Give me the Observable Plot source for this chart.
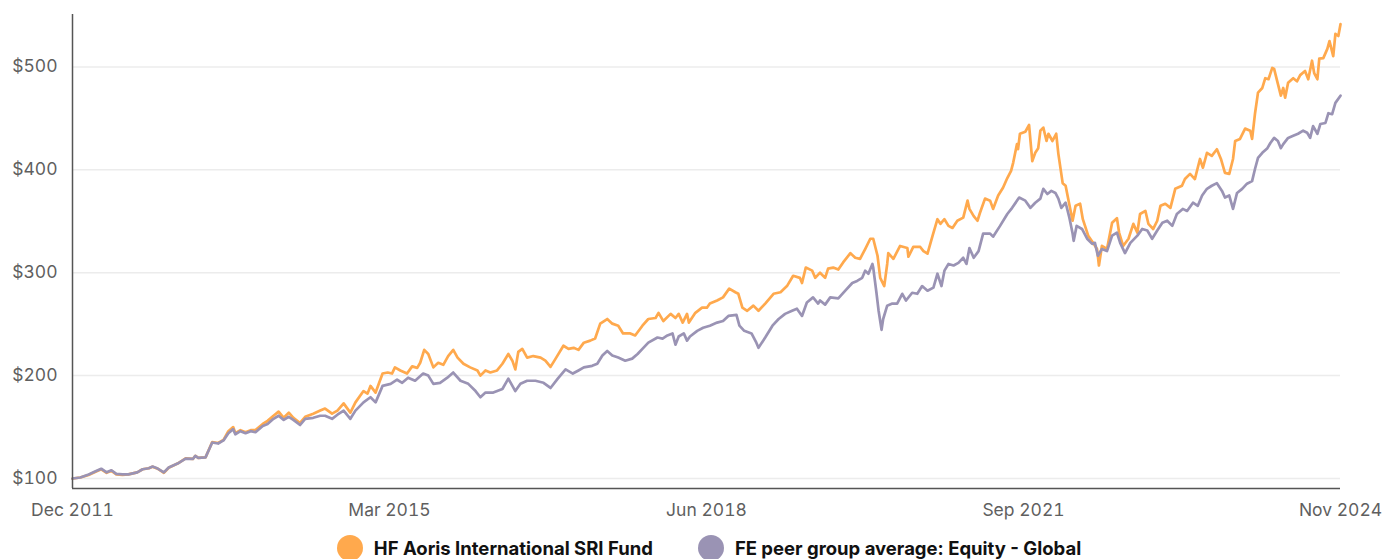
<!DOCTYPE html>
<html>
<head>
<meta charset="utf-8">
<script src="https://cdn.jsdelivr.net/npm/d3@7"></script>
<script src="https://cdn.jsdelivr.net/npm/@observablehq/plot@0.6"></script>
<style>
  html, body { margin: 0; padding: 0; background: #fff; }
  #chart { width: 1399px; }
  #legend { display: flex; justify-content: center; gap: 45px; padding-left: 19px; margin-top: 5px;
            font-family: Inter, sans-serif; font-weight: 700; font-size: 18.5px; color: #111; }
  .item { display: flex; align-items: center; gap: 11px; }
  .dot { width: 26px; height: 26px; border-radius: 50%; display: inline-block; }
</style>
</head>
<body>
<div id="chart"></div>
<div id="legend"></div>
<script>
const seriesNames = ["HF Aoris International SRI Fund", "FE peer group average: Equity - Global"];
const seriesColors = ["#FFA94D", "#9A93B4"];
const yTicks = [100, 200, 300, 400, 500];
const xTickLabels = ["Dec 2011", "Mar 2015", "Jun 2018", "Sep 2021", "Nov 2024"];
const xStart = "2011-12-01";
const xEnd = "2024-11-01";

const earlyDates = ["2011-12-01","2011-12-30","2012-01-30","2012-02-25","2012-03-17","2012-04-06","2012-04-24","2012-05-12","2012-06-04","2012-06-26",
"2012-07-29","2012-08-18","2012-09-10","2012-09-24","2012-10-13","2012-11-05","2012-11-23","2012-12-26","2013-01-25","2013-02-21",
"2013-03-02","2013-03-13","2013-04-09","2013-05-04","2013-05-26","2013-06-15","2013-07-03","2013-07-21","2013-07-29","2013-08-17",
"2013-09-05","2013-09-24","2013-10-12","2013-11-08","2013-11-26","2013-12-18","2014-01-06","2014-01-25","2014-02-13","2014-03-02",
"2014-03-27","2014-04-15","2014-05-15","2014-06-10","2014-06-28","2014-07-24","2014-08-13","2014-09-05","2014-09-30","2014-10-19"];
const fundEarly = [100,101,103.5,106.5,109,105.5,107.5,104,103.5,104,
106,109,110,111.5,109.5,105.5,110.5,114.5,119.5,119,
122,120,120.5,135.5,134.5,137.5,146,150,144,147,
145,147,147,153,156,161,165,159,164,159,
154,160,163,166,168,163,166,173,164,174];
const peerEarly = [100,101,104,107,109.5,106,108,104.5,104,104,
106,109,110,111.6,109.7,106,110.7,114.5,119.4,119,
122,120,120.5,135,134,137,144,148,143,146,
144,146,145,151,153,158,161,157,160,157,
152,158,159,161,161,158,162,166,158,166];

const fundLater = [
["2014-11-18",185],["2014-12-03",182.5],["2014-12-14",190],["2015-01-02",183.5],["2015-01-28",202],["2015-02-16",203],["2015-03-04",202],
["2015-03-15",208],["2015-04-04",205],["2015-04-29",202],["2015-05-18",209],["2015-06-06",207.5],["2015-06-17",212.5],["2015-07-02",225],
["2015-07-17",221],["2015-08-05",208],["2015-08-23",212.5],["2015-09-11",210.5],["2015-09-29",219],["2015-10-18",225],["2015-11-03",217.5],
["2015-11-25",211.5],["2015-12-20",208],["2016-01-16",205],["2016-01-27",200],["2016-02-15",205],["2016-03-04",203],["2016-03-29",205],
["2016-04-18",211.5],["2016-05-10",221],["2016-05-25",214.5],["2016-06-05",206],["2016-06-16",223],["2016-07-01",226],["2016-07-19",217.5],
["2016-08-11",219],["2016-09-07",217.5],["2016-09-25",214.5],["2016-10-14",208.5],["2016-11-02",216.5],["2016-12-01",229],["2016-12-20",226],
["2017-01-08",227],["2017-01-26",225],["2017-02-15",232],["2017-03-11",234],["2017-03-29",236],["2017-04-17",250.5],["2017-05-13",255],
["2017-06-01",250.5],["2017-06-23",248.5],["2017-07-11",241],["2017-08-07",241],["2017-08-25",239],["2017-09-21",248.5],["2017-10-13",255],
["2017-11-09",256],["2017-11-20",261],["2017-12-08",253],["2018-01-04",260],["2018-01-22",256],["2018-02-03",260],["2018-02-18",251.5],
["2018-03-06",260],["2018-03-13",251.5],["2018-04-06",261],["2018-05-01",266],["2018-05-19",266],["2018-05-30",270],["2018-06-26",273],
["2018-07-18",276],["2018-08-10",284.5],["2018-09-02",281],["2018-09-13",279.5],["2018-09-28",266],["2018-10-16",263],["2018-11-08",268],
["2018-11-27",263],["2018-12-22",270],["2019-01-22",279.5],["2019-02-17",281],["2019-03-13",287],["2019-04-05",297],["2019-04-30",295],
["2019-05-08",290],["2019-05-22",305],["2019-06-15",302],["2019-06-26",295],["2019-07-14",300],["2019-08-02",295],["2019-08-13",304],
["2019-09-01",305],["2019-09-20",303],["2019-10-08",310],["2019-11-04",319],["2019-11-22",314.5],["2019-12-10",313.5],["2019-12-29",323],
["2020-01-17",333],["2020-01-28",333],["2020-02-13",316.5],["2020-02-23",295],["2020-03-09",287],["2020-03-20",308.5],["2020-03-24",319],
["2020-04-12",313.5],["2020-05-07",326],["2020-06-03",324],["2020-06-07",315.5],["2020-06-25",325],["2020-07-21",325],["2020-08-02",321],
["2020-08-17",318.5],["2020-09-05",336],["2020-09-23",352],["2020-10-04",347.5],["2020-10-19",352],["2020-11-03",345.5],["2020-11-18",343.5],
["2020-12-06",350.5],["2020-12-28",353.5],["2021-01-13",370],["2021-01-20",362],["2021-02-05",355],["2021-02-19",350.5],["2021-02-28",358],
["2021-03-19",372],["2021-04-07",370],["2021-04-18",362],["2021-05-07",375],["2021-05-25",382.5],["2021-06-10",392],["2021-06-24",399],
["2021-07-02",407],["2021-07-16",425],["2021-07-20",420],["2021-07-27",435],["2021-08-16",437],["2021-08-30",443.5],["2021-09-11",408.5],
["2021-09-22",416.5],["2021-10-03",421],["2021-10-11",438],["2021-10-22",441],["2021-11-03",428],["2021-11-10",435],["2021-11-25",428],
["2021-12-09",435],["2021-12-17",415.5],["2022-01-02",387],["2022-01-13",384.5],["2022-01-24",370],["2022-02-08",350.5],["2022-02-19",365],
["2022-03-08",367],["2022-03-18",352],["2022-04-07",336],["2022-04-25",329],["2022-05-10",323],["2022-05-17",307],["2022-05-28",326],
["2022-06-16",323],["2022-07-05",348.5],["2022-07-23",353],["2022-07-31",339],["2022-08-15",326],["2022-09-04",333],["2022-09-22",347.5],
["2022-10-07",339],["2022-10-17",357],["2022-11-06",360],["2022-11-17",347.5],["2022-12-05",342.5],["2022-12-20",350.5],["2023-01-01",365],
["2023-01-19",367],["2023-02-07",363],["2023-02-25",381.5],["2023-03-22",384.5],["2023-04-02",391],["2023-04-21",396],["2023-05-09",391],
["2023-05-28",410.5],["2023-06-08",402],["2023-06-23",416.5],["2023-07-11",413.5],["2023-07-30",420],["2023-08-14",410.5],["2023-08-29",397],
["2023-09-14",396],["2023-09-28",410.5],["2023-10-06",428],["2023-10-24",430],["2023-11-12",440],["2023-12-01",438],["2023-12-08",430],
["2023-12-19",455],["2023-12-30",475],["2024-01-15",479.5],["2024-01-26",489],["2024-02-07",488],["2024-02-21",499],["2024-02-28",498],
["2024-03-13",483.5],["2024-03-24",472],["2024-04-02",479.5],["2024-04-09",470],["2024-04-20",484.5],["2024-05-09",489],["2024-05-23",486],
["2024-06-04",492],["2024-06-22",496],["2024-07-04",488],["2024-07-18",506],["2024-07-26",494],["2024-08-07",488],["2024-08-14",508],
["2024-08-29",508.5],["2024-09-13",517.5],["2024-09-21",525],["2024-10-05",510.5],["2024-10-13",532],["2024-10-24",530],["2024-11-01",541.5]];

const peerLater = [
["2014-11-18",174],["2014-12-14",179],["2015-01-02",174],["2015-01-28",190],["2015-02-27",192],["2015-03-23",196],["2015-04-11",193],
["2015-05-03",198],["2015-05-29",195],["2015-06-28",202],["2015-07-17",200],["2015-08-05",192],["2015-08-30",193],["2015-09-26",198],
["2015-10-18",203],["2015-11-14",195],["2015-12-13",192],["2016-01-09",185],["2016-01-27",179],["2016-02-15",183.5],["2016-03-15",183.5],
["2016-04-18",187],["2016-05-10",197],["2016-06-05",185],["2016-06-24",192],["2016-07-19",195],["2016-08-19",195],["2016-09-18",193],
["2016-10-14",188],["2016-11-10",197],["2016-12-09",206],["2017-01-05",202],["2017-01-26",205],["2017-02-15",208],["2017-03-18",209.5],
["2017-04-06",211.5],["2017-04-25",219.5],["2017-05-13",224],["2017-06-01",219.5],["2017-06-23",217.5],["2017-07-19",214.5],["2017-08-14",216.5],
["2017-09-03",221],["2017-09-21",226],["2017-10-13",232],["2017-11-16",237],["2017-12-05",236],["2017-12-23",239],["2018-01-11",241],
["2018-01-22",230],["2018-02-03",238],["2018-02-22",241],["2018-03-06",234],["2018-03-17",238],["2018-04-13",243.5],["2018-05-05",246.5],
["2018-05-30",248.5],["2018-06-26",251.5],["2018-07-18",253],["2018-08-07",258],["2018-09-06",259],["2018-09-17",248.5],["2018-10-05",243.5],
["2018-11-01",241],["2018-11-19",232],["2018-11-27",227],["2018-12-22",237],["2019-01-18",248.5],["2019-02-10",255],["2019-03-06",260],
["2019-04-01",263],["2019-04-19",265],["2019-05-08",258],["2019-05-26",271],["2019-06-18",276],["2019-07-07",270],["2019-07-14",273],
["2019-08-02",269],["2019-08-21",276],["2019-09-20",275],["2019-10-16",282.5],["2019-11-11",290],["2019-11-29",292],["2019-12-18",295],
["2019-12-29",302],["2020-01-10",299],["2020-01-25",308.5],["2020-01-28",305],["2020-02-09",280.5],["2020-02-17",263],["2020-02-28",244.5],
["2020-03-05",255],["2020-03-20",268],["2020-04-08",270],["2020-04-26",270],["2020-05-15",279.5],["2020-05-29",273],["2020-06-21",280.5],
["2020-07-10",279.5],["2020-07-28",287],["2020-08-17",282.5],["2020-09-08",285.5],["2020-09-23",299],["2020-10-08",287],["2020-10-19",302],
["2020-11-03",308.5],["2020-11-22",307],["2020-12-10",309.5],["2020-12-28",314.5],["2021-01-09",308.5],["2021-01-20",324],["2021-02-05",314.5],
["2021-02-23",321],["2021-03-12",338],["2021-04-07",338],["2021-04-18",335],["2021-05-14",345.5],["2021-06-10",357],["2021-06-28",363],
["2021-07-24",373],["2021-08-16",370],["2021-09-04",363],["2021-09-22",368],["2021-10-11",372],["2021-10-22",381.5],["2021-11-06",376.5],
["2021-11-21",379.5],["2021-12-06",377.5],["2021-12-17",372],["2021-12-28",363],["2022-01-13",368],["2022-01-27",353.5],["2022-02-08",338],
["2022-02-12",331],["2022-02-23",345.5],["2022-03-15",342.5],["2022-04-03",333],["2022-04-22",328],["2022-05-02",329],["2022-05-13",316.5],
["2022-05-28",323],["2022-06-16",321],["2022-07-05",336],["2022-07-23",339],["2022-08-04",329],["2022-08-22",319],["2022-09-11",329],
["2022-10-07",336],["2022-10-25",342.5],["2022-11-13",341],["2022-12-01",333],["2022-12-20",341],["2023-01-08",348.5],["2023-01-26",350.5],
["2023-02-14",345.5],["2023-03-03",357],["2023-03-25",362],["2023-04-10",360],["2023-05-02",368],["2023-05-20",365],["2023-06-05",375],
["2023-06-23",381.5],["2023-07-11",384.5],["2023-07-30",387],["2023-08-18",379.5],["2023-08-29",373],["2023-09-14",375],["2023-09-28",362],
["2023-10-13",377.5],["2023-11-01",381.5],["2023-11-19",386.5],["2023-12-08",389],["2023-12-19",401],["2023-12-30",411.5],["2024-01-15",416.5],
["2024-02-03",421],["2024-02-14",426],["2024-02-28",431],["2024-03-13",428],["2024-03-24",421],["2024-04-02",425],["2024-04-20",431],
["2024-05-09",433],["2024-05-27",435],["2024-06-15",438],["2024-06-30",436],["2024-07-11",431],["2024-07-22",442.5],["2024-08-07",435],
["2024-08-18",444.5],["2024-09-06",445.5],["2024-09-17",455],["2024-10-01",454],["2024-10-13",465],["2024-11-01",472]];

const parse = d3.utcParse("%Y-%m-%d");
const fund = earlyDates.map((d, i) => ({date: parse(d), value: fundEarly[i], series: seriesNames[0]}))
  .concat(fundLater.map(([d, v]) => ({date: parse(d), value: v, series: seriesNames[0]})));
const peer = earlyDates.map((d, i) => ({date: parse(d), value: peerEarly[i], series: seriesNames[1]}))
  .concat(peerLater.map(([d, v]) => ({date: parse(d), value: v, series: seriesNames[1]})));

const x0 = parse(xStart), x1 = parse(xEnd);
const xTickDates = d3.range(xTickLabels.length).map(i => new Date(+x0 + i * (x1 - x0) / (xTickLabels.length - 1)));
const yDomain = [90.3, 550.9];

const chart = Plot.plot({
  width: 1399,
  height: 530,
  marginTop: 14,
  marginBottom: 42,
  marginLeft: 72,
  marginRight: 59,
  style: {fontFamily: "Inter, sans-serif", fontSize: "17.5px", color: "#5f5f5f", background: "#fff"},
  x: {type: "utc", domain: [x0, x1]},
  y: {domain: yDomain},
  marks: [
    Plot.gridY(yTicks, {stroke: "#ececec", strokeOpacity: 1, strokeWidth: 1.5}),
    Plot.lineY(fund, {x: "date", y: "value", stroke: seriesColors[0], strokeWidth: 2.7, strokeLinejoin: "round"}),
    Plot.lineY(peer, {x: "date", y: "value", stroke: seriesColors[1], strokeWidth: 2.7, strokeLinejoin: "round"}),
    Plot.ruleX([x0], {stroke: "#555", strokeWidth: 1.5}),
    Plot.ruleY([yDomain[0]], {stroke: "#555", strokeWidth: 1.5}),
    Plot.axisY({ticks: yTicks, tickFormat: d => "$" + d, tickSize: 0, tickPadding: 15, label: null}),
    Plot.axisX({ticks: xTickDates, tickFormat: d => xTickLabels[xTickDates.findIndex(t => +t === +d)], tickSize: 0, tickPadding: 15, label: null})
  ]
});
document.getElementById("chart").appendChild(chart);

const legend = document.getElementById("legend");
seriesNames.forEach((name, i) => {
  const item = document.createElement("span");
  item.className = "item";
  const dot = document.createElement("span");
  dot.className = "dot";
  dot.style.background = seriesColors[i];
  item.appendChild(dot);
  item.appendChild(document.createTextNode(name));
  legend.appendChild(item);
});
</script>
</body>
</html>
